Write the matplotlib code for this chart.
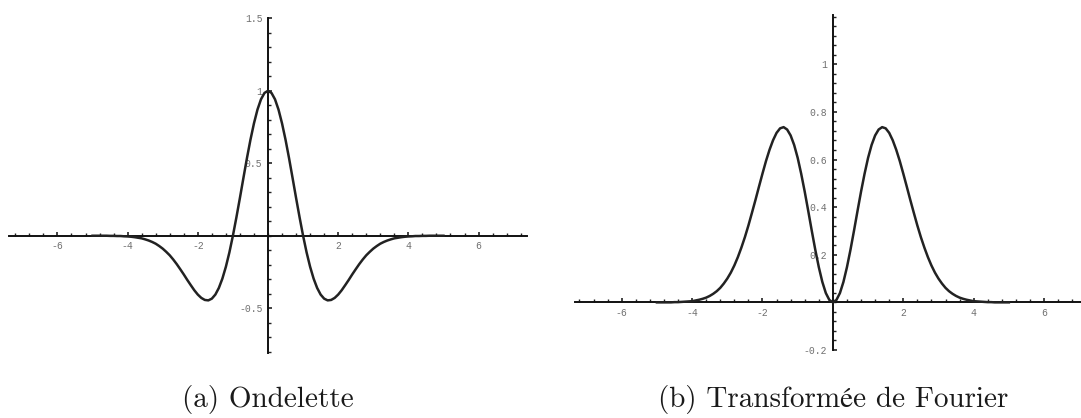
import matplotlib
matplotlib.use('Agg')
import matplotlib.pyplot as plt
from matplotlib.ticker import FixedLocator, MultipleLocator, FuncFormatter

# sample positions read along the x axis
x = [-5.0, -4.9, -4.8, -4.7, -4.6, -4.5, -4.4, -4.3, -4.2, -4.1,
     -4.0, -3.9, -3.8, -3.7, -3.6, -3.5, -3.4, -3.3, -3.2, -3.1,
     -3.0, -2.9, -2.8, -2.7, -2.6, -2.5, -2.4, -2.3, -2.2, -2.1,
     -2.0, -1.9, -1.8, -1.7, -1.6, -1.5, -1.4, -1.3, -1.2, -1.1,
     -1.0, -0.9, -0.8, -0.7, -0.6, -0.5, -0.4, -0.3, -0.2, -0.1,
     0.0,
     0.1, 0.2, 0.3, 0.4, 0.5, 0.6, 0.7, 0.8, 0.9, 1.0,
     1.1, 1.2, 1.3, 1.4, 1.5, 1.6, 1.7, 1.8, 1.9, 2.0,
     2.1, 2.2, 2.3, 2.4, 2.5, 2.6, 2.7, 2.8, 2.9, 3.0,
     3.1, 3.2, 3.3, 3.4, 3.5, 3.6, 3.7, 3.8, 3.9, 4.0,
     4.1, 4.2, 4.3, 4.4, 4.5, 4.6, 4.7, 4.8, 4.9, 5.0]

# (a) wavelet
ondelette = [0.0, 0.0, 0.0, 0.0, 0.0, -0.001, -0.001, -0.002, -0.002, -0.004,
             -0.005, -0.007, -0.010, -0.014, -0.018, -0.025, -0.033, -0.043, -0.055, -0.071,
             -0.089, -0.111, -0.135, -0.164, -0.196, -0.231, -0.267, -0.305, -0.341, -0.376,
             -0.406, -0.429, -0.443, -0.446, -0.434, -0.406, -0.360, -0.296, -0.214, -0.115,
             0.0, 0.127, 0.261, 0.399, 0.535, 0.662, 0.775, 0.870, 0.941, 0.985,
             1.0,
             0.985, 0.941, 0.870, 0.775, 0.662, 0.535, 0.399, 0.261, 0.127, 0.0,
             -0.115, -0.214, -0.296, -0.360, -0.406, -0.434, -0.446, -0.443, -0.429, -0.406,
             -0.376, -0.341, -0.305, -0.267, -0.231, -0.196, -0.164, -0.135, -0.111, -0.089,
             -0.071, -0.055, -0.043, -0.033, -0.025, -0.018, -0.014, -0.010, -0.007, -0.005,
             -0.004, -0.002, -0.002, -0.001, -0.001, 0.0, 0.0, 0.0, 0.0, 0.0]

# (b) its Fourier transform
fourier = [0.0, 0.0, 0.0, 0.0, 0.0, 0.001, 0.001, 0.002, 0.003, 0.004,
           0.005, 0.008, 0.011, 0.015, 0.020, 0.027, 0.036, 0.047, 0.061, 0.079,
           0.100, 0.125, 0.155, 0.190, 0.230, 0.274, 0.323, 0.376, 0.430, 0.486,
           0.541, 0.594, 0.641, 0.681, 0.712, 0.731, 0.736, 0.726, 0.701, 0.661,
           0.607, 0.540, 0.465, 0.384, 0.301, 0.221, 0.148, 0.086, 0.039, 0.010,
           0.0,
           0.010, 0.039, 0.086, 0.148, 0.221, 0.301, 0.384, 0.465, 0.540, 0.607,
           0.661, 0.701, 0.726, 0.736, 0.731, 0.712, 0.681, 0.641, 0.594, 0.541,
           0.486, 0.430, 0.376, 0.323, 0.274, 0.230, 0.190, 0.155, 0.125, 0.100,
           0.079, 0.061, 0.047, 0.036, 0.027, 0.020, 0.015, 0.011, 0.008, 0.005,
           0.004, 0.003, 0.002, 0.001, 0.001, 0.0, 0.0, 0.0, 0.0, 0.0]

xticks = [-6, -4, -2, 2, 4, 6]
yticks_a = [-0.5, 0.5, 1, 1.5]
yticks_b = [-0.2, 0.2, 0.4, 0.6, 0.8, 1]
captions = ['(a) Ondelette', '(b) Transformée de Fourier']

plt.rcParams['axes.unicode_minus'] = False

fig = plt.figure(figsize=(10.81, 4.18), dpi=100)
ax1 = fig.add_axes([0.008, 0.1562, 0.4795, 0.8])
ax2 = fig.add_axes([0.5315, 0.1627, 0.4685, 0.8014])

fmt = FuncFormatter(lambda v, p: '%g' % v)


def setup(ax, xlim, ylim, yticks, yminor):
    ax.set_xlim(*xlim)
    ax.set_ylim(*ylim)
    for s in ['top', 'right']:
        ax.spines[s].set_visible(False)
    for s in ['left', 'bottom']:
        ax.spines[s].set_position(('data', 0))
        ax.spines[s].set_linewidth(1.4)
        ax.spines[s].set_color('#111111')
    ax.xaxis.set_major_locator(FixedLocator(xticks))
    ax.xaxis.set_minor_locator(MultipleLocator(0.4))
    ax.yaxis.set_major_locator(FixedLocator(yticks))
    ax.yaxis.set_minor_locator(MultipleLocator(yminor))
    ax.xaxis.set_major_formatter(fmt)
    ax.yaxis.set_major_formatter(fmt)
    ax.tick_params(which='major', direction='in', length=3.2, width=1.2, color='#222222', pad=4)
    ax.tick_params(which='minor', direction='in', length=2.0, width=1.0, color='#222222')
    for lab in ax.get_xticklabels() + ax.get_yticklabels():
        lab.set_fontfamily('Liberation Mono')
        lab.set_fontsize(7)
        lab.set_color('#707070')
    ax.patch.set_alpha(0)


setup(ax1, (-7.39, 7.38), (-0.807, 1.5), yticks_a, 0.1)
setup(ax2, (-7.34, 7.05), (-0.2, 1.207), yticks_b, 0.04)

ax1.plot(x, ondelette, color='#222222', lw=1.8, solid_joinstyle='round', zorder=3)
ax2.plot(x, fourier, color='#222222', lw=1.8, solid_joinstyle='round', zorder=3)

capfont = ['cmr10', 'STIXGeneral']
fig.text(268 / 1081, 1 - 407 / 418, captions[0], ha='center', va='baseline',
         family=capfont, fontsize=21, color='#1a1a1a')
fig.text(833 / 1081, 1 - 407 / 418, captions[1], ha='center', va='baseline',
         family=capfont, fontsize=21, color='#1a1a1a')

fig.savefig('out.png', dpi=100)
